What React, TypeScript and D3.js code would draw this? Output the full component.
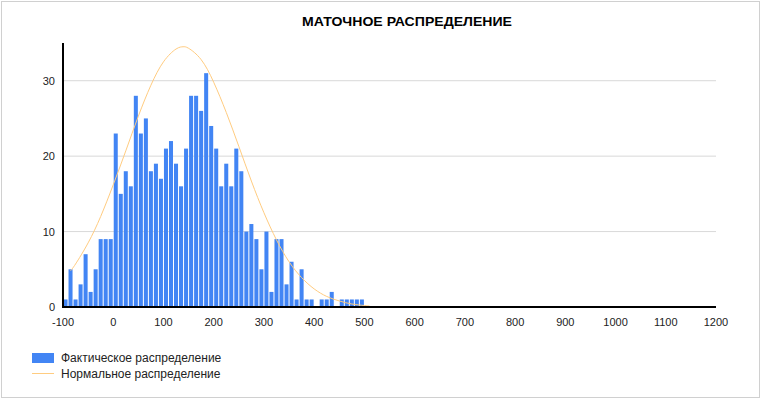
import React, { useEffect, useRef } from 'react';
import * as d3 from 'd3';

// bin starts (width 10) and counts
const binStarts = [
  -100, -90, -80, -70, -60, -50, -40, -30, -20, -10,
  0, 10, 20, 30, 40, 50, 60, 70, 80, 90,
  100, 110, 120, 130, 140, 150, 160, 170, 180, 190,
  200, 210, 220, 230, 240, 250, 260, 270, 280, 290,
  300, 310, 320, 330, 340, 350, 360, 370, 380, 390,
  400, 410, 420, 430, 440, 450, 460, 470, 480, 490,
];
const counts = [
  1, 5, 1, 3, 7, 2, 5, 9, 9, 9,
  23, 15, 18, 16, 28, 23, 25, 18, 19, 17,
  21, 22, 19, 16, 21, 28, 28, 26, 31, 24,
  21, 16, 19, 16, 21, 18, 10, 11, 9, 5,
  10, 2, 9, 9, 3, 6, 1, 5, 1, 1,
  0, 1, 1, 2, 0, 1, 1, 1, 1, 1,
];
const binWidth = 10;

// normal curve
const curveX = [-85, -75, -50, -25, 0, 25, 50, 75, 100, 125, 139, 150, 175, 200, 225, 250, 275, 300, 325, 350, 375, 400, 425, 450, 475, 500, 510];
const curveY = [4.8, 5.7, 8.5, 12.0, 16.2, 20.7, 25.3, 29.4, 32.5, 34.2, 34.5, 34.3, 32.8, 29.8, 25.8, 21.3, 16.7, 12.5, 8.9, 6.0, 3.9, 2.4, 1.4, 0.8, 0.4, 0.2, 0.15];

const xTicks = [-100, 0, 100, 200, 300, 400, 500, 600, 700, 800, 900, 1000, 1100, 1200];
const yTicks = [0, 10, 20, 30];

const title = 'МАТОЧНОЕ РАСПРЕДЕЛЕНИЕ';
const legendLabels = ['Фактическое распределение', 'Нормальное распределение'];

const font = '"Liberation Sans", Arial, sans-serif';
const barColor = '#4285f4';
const lineColor = '#ffcc80';

export default function App() {
  const ref = useRef<SVGSVGElement>(null);

  useEffect(() => {
    const svg = d3.select(ref.current);
    svg.selectAll('*').remove();

    const width = 761;
    const height = 399;

    const x = d3.scaleLinear().domain([-100, 1200]).range([63, 716]);
    const y = d3.scaleLinear().domain([0, 35]).range([307, 43]);

    // frame
    svg.append('rect')
      .attr('x', 1.5).attr('y', 1.5)
      .attr('width', width - 3).attr('height', height - 3)
      .attr('fill', '#fff')
      .attr('stroke', '#d0d0d0');

    // title
    svg.append('text')
      .attr('x', 302).attr('y', 26)
      .attr('font-family', font)
      .attr('font-size', 13)
      .attr('font-weight', 'bold')
      .attr('textLength', 210)
      .attr('lengthAdjust', 'spacingAndGlyphs')
      .attr('fill', '#000')
      .text(title);

    // gridlines
    svg.append('g')
      .selectAll('line')
      .data(yTicks.filter(d => d > 0))
      .join('line')
      .attr('x1', 63).attr('x2', 716)
      .attr('y1', d => y(d)).attr('y2', d => y(d))
      .attr('stroke', '#d9d9d9')
      .attr('stroke-width', 1);

    // bars
    svg.append('g')
      .selectAll('rect')
      .data(binStarts.map((b, i) => ({ b, c: counts[i] })).filter(d => d.c > 0))
      .join('rect')
      .attr('x', d => x(d.b) + 0.5)
      .attr('width', d => x(d.b + binWidth) - x(d.b) - 1)
      .attr('y', d => y(d.c))
      .attr('height', d => y(0) - y(d.c))
      .attr('fill', barColor);

    // normal curve
    const line = d3.line<number>()
      .x((d, i) => x(curveX[i]))
      .y(d => y(d))
      .curve(d3.curveNatural);

    svg.append('path')
      .datum(curveY)
      .attr('fill', 'none')
      .attr('stroke', lineColor)
      .attr('stroke-width', 1)
      .attr('d', line);

    // axes
    svg.append('line')
      .attr('x1', 63).attr('x2', 63)
      .attr('y1', y(35)).attr('y2', y(0))
      .attr('stroke', '#000').attr('stroke-width', 2);
    svg.append('line')
      .attr('x1', 62).attr('x2', 716)
      .attr('y1', y(0)).attr('y2', y(0))
      .attr('stroke', '#000').attr('stroke-width', 2);

    svg.append('g')
      .selectAll('text')
      .data(yTicks)
      .join('text')
      .attr('x', 55)
      .attr('y', d => y(d) + 4)
      .attr('text-anchor', 'end')
      .attr('font-family', font)
      .attr('font-size', 11)
      .attr('fill', '#222')
      .text(d => d);

    svg.append('g')
      .selectAll('text')
      .data(xTicks)
      .join('text')
      .attr('x', d => x(d))
      .attr('y', 326)
      .attr('text-anchor', 'middle')
      .attr('font-family', font)
      .attr('font-size', 11)
      .attr('fill', '#222')
      .text(d => d);

    // legend
    const legend = svg.append('g').attr('font-family', font).attr('font-size', 12).attr('fill', '#222');
    legend.append('rect')
      .attr('x', 32).attr('y', 353)
      .attr('width', 22).attr('height', 10)
      .attr('fill', barColor);
    legend.append('text').attr('x', 61).attr('y', 362).text(legendLabels[0]);
    legend.append('line')
      .attr('x1', 32).attr('x2', 54)
      .attr('y1', 373.5).attr('y2', 373.5)
      .attr('stroke', lineColor);
    legend.append('text').attr('x', 61).attr('y', 378).text(legendLabels[1]);
  }, []);

  return (
    <div style={{ position: 'absolute', left: 0, top: 0 }}>
      <svg ref={ref} width={761} height={399} style={{ display: 'block' }} />
    </div>
  );
}
